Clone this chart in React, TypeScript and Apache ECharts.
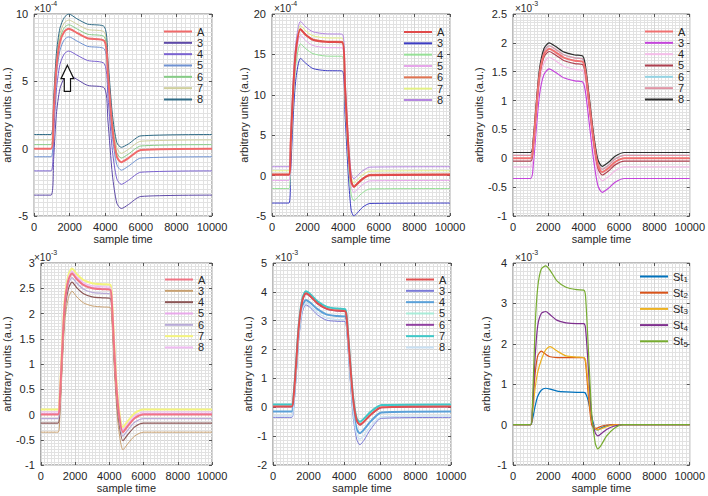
import React, { useEffect, useRef } from 'react';
import * as echarts from 'echarts';

// ---------------- data (values in units of the panel exponent) ----------------
const X_TICKS = [0, 2000, 4000, 6000, 8000, 10000];

// Panel 1 (x1e-4)
const P1_NAMES = ['A', '3', '4', '5', '6', '7', '8'];
const P1_X = [0, 950, 1100, 1250, 1450, 1700, 1950, 2400, 3000, 3950, 4150, 4400, 4650, 4900, 5300, 6000, 10000];
const P1_A = [0, 0, 2.8, 6.0, 7.9, 8.7, 8.9, 8.6, 8.2, 8.0, 5.5, 1.5, -0.6, -1.0, -0.7, -0.1, 0];
const P1_3 = [-3.45, -3.45, -0.65, 2.55, 4.45, 5.25, 5.45, 5.15, 4.7, 4.5, 2.05, -1.95, -4.05, -4.45, -4.15, -3.55, -3.45];
const P1_4 = [-1.65, -1.65, 1.15, 4.35, 6.25, 7.05, 7.25, 6.95, 6.55, 6.3, 3.85, -0.15, -2.25, -2.65, -2.35, -1.75, -1.65];
const P1_5 = [-0.6, -0.6, 2.2, 5.4, 7.3, 8.1, 8.3, 8.0, 7.6, 7.4, 4.9, 0.9, -1.2, -1.6, -1.3, -0.7, -0.6];
const P1_6 = [0.3, 0.3, 3.1, 6.3, 8.2, 9.0, 9.2, 8.9, 8.5, 8.3, 5.8, 1.8, -0.3, -0.7, -0.4, 0.2, 0.3];
const P1_7 = [0.65, 0.65, 3.45, 6.65, 8.55, 9.35, 9.55, 9.25, 8.85, 8.65, 6.15, 2.15, 0.05, -0.35, -0.05, 0.55, 0.65];
const P1_8 = [1.05, 1.05, 3.85, 7.05, 8.95, 9.75, 10.0, 9.65, 9.25, 9.05, 6.55, 2.55, 0.45, 0.1, 0.35, 0.95, 1.05];

// Panel 2 (x1e-4)
const P2_NAMES = ['A', '3', '4', '5', '6', '7', '8'];
const P2_X = [0, 950, 1050, 1200, 1350, 1600, 1900, 2300, 3000, 3950, 4100, 4300, 4450, 4600, 4800, 5100, 5500, 10000];
const P2_A = [0.1, 0.1, 4.1, 11.1, 15.6, 18.1, 17.4, 16.8, 16.55, 16.5, 11.1, 3.1, -0.7, -1.4, -1.0, -0.4, 0.05, 0.1];
const P2_3 = [-3.4, -3.4, 0.6, 7.6, 12.1, 14.5, 13.9, 13.25, 13.0, 12.95, 7.6, -0.4, -4.3, -5.0, -4.6, -3.9, -3.45, -3.4];
const P2_4 = [-1.6, -1.6, 2.4, 9.4, 13.9, 16.3, 15.7, 15.1, 14.8, 14.75, 9.4, 1.4, -2.4, -3.1, -2.7, -2.1, -1.65, -1.6];
const P2_5 = [-0.6, -0.6, 3.4, 10.4, 14.9, 17.4, 16.7, 16.1, 15.85, 15.8, 10.4, 2.4, -1.4, -2.1, -1.7, -1.1, -0.65, -0.6];
const P2_6 = [0.2, 0.2, 4.2, 11.2, 15.7, 18.2, 17.5, 16.9, 16.65, 16.6, 11.2, 3.2, -0.6, -1.3, -0.9, -0.3, 0.15, 0.2];
const P2_7 = [0.6, 0.6, 4.6, 11.6, 16.1, 18.6, 17.9, 17.3, 17.05, 17.0, 11.6, 3.6, -0.2, -0.9, -0.5, 0.1, 0.55, 0.6];
const P2_8 = [1.1, 1.1, 5.1, 12.1, 16.6, 19.1, 18.4, 17.8, 17.55, 17.5, 12.1, 4.1, 0.3, -0.4, 0.0, 0.6, 1.05, 1.1];

// Panel 3 (x1e-3)
const P3_NAMES = ['A', '3', '4', '5', '6', '7', '8'];
const P3_X = [0, 1000, 1150, 1300, 1500, 1750, 2050, 2400, 2900, 3500, 3950, 4100, 4300, 4550, 4800, 5050, 5400, 5800, 6300, 10000];
const P3_A = [0, 0, 0.25, 0.8, 1.45, 1.8, 1.9, 1.84, 1.74, 1.69, 1.67, 1.5, 1.0, 0.35, -0.12, -0.24, -0.17, -0.06, 0, 0];
const P3_3 = [-0.35, -0.35, -0.1, 0.45, 1.1, 1.45, 1.55, 1.49, 1.39, 1.34, 1.32, 1.15, 0.65, 0.0, -0.47, -0.59, -0.52, -0.41, -0.35, -0.35];
const P3_4 = [-0.15, -0.15, 0.1, 0.65, 1.3, 1.65, 1.75, 1.69, 1.59, 1.54, 1.52, 1.35, 0.85, 0.2, -0.27, -0.39, -0.32, -0.21, -0.15, -0.15];
const P3_5 = [-0.05, -0.05, 0.2, 0.75, 1.4, 1.75, 1.85, 1.79, 1.69, 1.64, 1.62, 1.45, 0.95, 0.3, -0.17, -0.29, -0.22, -0.11, -0.05, -0.05];
const P3_6 = [0.05, 0.05, 0.3, 0.85, 1.5, 1.85, 1.95, 1.89, 1.79, 1.74, 1.72, 1.55, 1.05, 0.4, -0.07, -0.19, -0.12, -0.01, 0.05, 0.05];
const P3_7 = [0.05, 0.05, 0.3, 0.85, 1.5, 1.85, 1.95, 1.89, 1.79, 1.74, 1.72, 1.55, 1.05, 0.4, -0.07, -0.19, -0.12, -0.01, 0.05, 0.05];
const P3_8 = [0.1, 0.1, 0.35, 0.9, 1.55, 1.9, 2.0, 1.94, 1.84, 1.79, 1.77, 1.6, 1.1, 0.45, -0.02, -0.14, -0.07, 0.04, 0.1, 0.1];

// Panel 4 (x1e-3)
const P4_NAMES = ['A', '3', '4', '5', '6', '7', '8'];
const P4_X = [0, 1000, 1100, 1250, 1400, 1600, 1820, 2100, 2500, 3000, 3600, 4050, 4150, 4300, 4500, 4800, 5100, 5500, 6000, 10000];
const P4_A = [0, 0, 0.25, 1.3, 2.2, 2.65, 2.79, 2.68, 2.56, 2.5, 2.48, 2.47, 2.2, 1.2, 0.2, -0.35, -0.22, -0.07, 0, 0];
const P4_3 = [-0.35, -0.35, -0.1, 0.95, 1.85, 2.3, 2.44, 2.33, 2.21, 2.15, 2.13, 2.12, 1.85, 0.85, -0.15, -0.7, -0.57, -0.42, -0.35, -0.35];
const P4_4 = [-0.17, -0.17, 0.08, 1.13, 2.03, 2.48, 2.62, 2.51, 2.39, 2.33, 2.31, 2.3, 2.03, 1.03, 0.03, -0.52, -0.39, -0.24, -0.17, -0.17];
const P4_5 = [0.02, 0.02, 0.27, 1.32, 2.22, 2.67, 2.81, 2.7, 2.58, 2.52, 2.5, 2.49, 2.22, 1.22, 0.22, -0.33, -0.2, -0.05, 0.02, 0.02];
const P4_6 = [-0.08, -0.08, 0.17, 1.22, 2.12, 2.57, 2.71, 2.6, 2.48, 2.42, 2.4, 2.39, 2.12, 1.12, 0.12, -0.43, -0.3, -0.15, -0.08, -0.08];
const P4_7 = [0.1, 0.1, 0.35, 1.4, 2.3, 2.75, 2.89, 2.78, 2.66, 2.6, 2.58, 2.57, 2.3, 1.3, 0.3, -0.25, -0.12, 0.03, 0.1, 0.1];
const P4_8 = [0.05, 0.05, 0.3, 1.35, 2.25, 2.7, 2.84, 2.73, 2.61, 2.55, 2.53, 2.52, 2.25, 1.25, 0.25, -0.3, -0.17, -0.02, 0.05, 0.05];

// Panel 5 (x1e-3)
const P5_NAMES = ['A', '3', '4', '5', '6', '7', '8'];
const P5_X = [0, 1050, 1150, 1300, 1450, 1650, 1850, 2100, 2500, 3000, 3600, 4050, 4150, 4300, 4500, 4700, 4880, 5100, 5500, 6100, 10000];
const P5_A = [0.03, 0.03, 0.3, 1.5, 2.8, 3.7, 3.95, 3.85, 3.6, 3.42, 3.35, 3.33, 3.0, 1.8, 0.3, -0.45, -0.6, -0.5, -0.25, 0.0, 0.03];
const P5_3 = [-0.35, -0.35, -0.1, 1.1, 2.38, 3.3, 3.55, 3.45, 3.2, 3.02, 2.98, 2.97, 2.6, 1.3, -0.3, -1.1, -1.3, -1.15, -0.75, -0.38, -0.35];
const P5_4 = [-0.15, -0.15, 0.1, 1.3, 2.6, 3.48, 3.72, 3.62, 3.4, 3.22, 3.16, 3.15, 2.8, 1.55, 0.0, -0.75, -0.9, -0.78, -0.48, -0.18, -0.15];
const P5_5 = [0.08, 0.08, 0.35, 1.55, 2.85, 3.75, 4.0, 3.9, 3.65, 3.47, 3.4, 3.38, 3.05, 1.85, 0.35, -0.4, -0.52, -0.42, -0.17, 0.06, 0.08];
const P5_6 = [0.02, 0.02, 0.29, 1.49, 2.79, 3.69, 3.94, 3.84, 3.59, 3.41, 3.34, 3.32, 2.99, 1.79, 0.29, -0.46, -0.61, -0.51, -0.26, -0.01, 0.02];
const P5_7 = [0.1, 0.1, 0.37, 1.57, 2.87, 3.77, 4.02, 3.92, 3.67, 3.49, 3.42, 3.4, 3.07, 1.87, 0.37, -0.38, -0.5, -0.4, -0.15, 0.08, 0.1];
const P5_8 = [-0.3, -0.3, -0.05, 1.15, 2.45, 3.38, 3.62, 3.52, 3.28, 3.1, 3.04, 3.03, 2.68, 1.4, -0.15, -0.95, -1.1, -0.98, -0.65, -0.33, -0.3];

// Panel 6 (x1e-3)
const P6_NAMES = ['St1', 'St2', 'St3', 'St4', 'St5'];
const P6_X = [0, 1000, 1100, 1250, 1400, 1600, 1850, 2100, 2500, 3000, 3600, 4000, 4100, 4250, 4450, 4650, 4800, 5000, 5300, 5700, 6200, 10000];
const P6_ST1 = [0, 0, 0.12, 0.45, 0.7, 0.85, 0.9, 0.88, 0.83, 0.81, 0.8, 0.8, 0.78, 0.6, 0.2, -0.1, -0.13, -0.08, -0.03, 0, 0, 0];
const P6_ST2 = [0, 0, 0.4, 1.25, 1.7, 1.82, 1.74, 1.68, 1.66, 1.66, 1.66, 1.66, 1.55, 0.8, 0.0, -0.1, -0.08, -0.04, -0.01, 0, 0, 0];
const P6_ST3 = [0, 0, 0.25, 0.9, 1.3, 1.6, 1.85, 1.93, 1.82, 1.7, 1.67, 1.66, 1.6, 1.0, 0.1, -0.1, -0.13, -0.1, -0.05, -0.01, 0, 0];
const P6_ST4 = [0, 0, 0.35, 1.65, 2.45, 2.75, 2.8, 2.72, 2.58, 2.52, 2.5, 2.5, 2.4, 1.5, 0.2, -0.2, -0.28, -0.22, -0.12, -0.04, 0, 0];
const P6_ST5 = [0, 0, 0.5, 2.4, 3.4, 3.85, 3.93, 3.82, 3.55, 3.4, 3.34, 3.33, 3.2, 2.0, 0.3, -0.45, -0.6, -0.5, -0.28, -0.1, 0, 0];

// ---------------- styling / layout ----------------
const FONT = '"Liberation Sans", Arial, Helvetica, sans-serif';
const TXT = '#262626';

type Panel = {
  x: number[]; names: string[]; ys: number[][]; colors: string[]; widths: number[];
  left: number; top: number; width: number; height: number;
  yMin: number; yMax: number; yInt: number; yMinor: number; xMinor: number; yNameGap: number;
  exp: string; legLeft: number; legTop: number; legGap: number; sub?: boolean;
};

const PANELS: Panel[] = [
  {
    x: P1_X, names: P1_NAMES, ys: [P1_A, P1_3, P1_4, P1_5, P1_6, P1_7, P1_8],
    colors: ['#f06a6a', '#5e4aa8', '#7a62d0', '#6f92d2', '#86cc86', '#cfcf9c', '#2f6b86'],
    widths: [2, 1, 1, 1, 1, 1, 1],
    left: 32, top: 14, width: 180, height: 202,
    yMin: -5, yMax: 10, yInt: 5, yMinor: 15, xMinor: 8, yNameGap: 13,
    exp: '-4', legLeft: 163, legTop: 26, legGap: 0.33,
  },
  {
    x: P2_X, names: P2_NAMES, ys: [P2_A, P2_3, P2_4, P2_5, P2_6, P2_7, P2_8],
    colors: ['#e04a4a', '#3d3dc4', '#96e096', '#e6a6ea', '#e07452', '#e2f084', '#b486e0'],
    widths: [2, 1, 1, 1, 1, 1, 1],
    left: 272, top: 14, width: 178, height: 202,
    yMin: -5, yMax: 20, yInt: 5, yMinor: 12, xMinor: 10, yNameGap: 16,
    exp: '-4', legLeft: 403, legTop: 26.5, legGap: 0.33,
  },
  {
    x: P3_X, names: P3_NAMES, ys: [P3_A, P3_3, P3_4, P3_5, P3_6, P3_7, P3_8],
    colors: ['#f07070', '#c444dc', '#f4bce8', '#ae4050', '#94d4e4', '#e094a4', '#2e2e2e'],
    widths: [2, 1.2, 1.2, 1.2, 1.2, 1.2, 1.2],
    left: 513, top: 14, width: 179, height: 202,
    yMin: -1, yMax: 2.5, yInt: 0.5, yMinor: 10, xMinor: 10, yNameGap: 22,
    exp: '-3', legLeft: 644, legTop: 26, legGap: 0.33,
  },
  {
    x: P4_X, names: P4_NAMES, ys: [P4_A, P4_3, P4_4, P4_5, P4_6, P4_7, P4_8],
    colors: ['#f07484', '#c8a070', '#8c5656', '#e8a8ea', '#b8aad8', '#f4f47e', '#f0baf2'],
    widths: [2, 1, 1.2, 1, 1.2, 2, 1.2],
    left: 32, top: 263, width: 180, height: 202,
    yMin: -1, yMax: 3, yInt: 0.5, yMinor: 8, xMinor: 10, yNameGap: 24,
    exp: '-3', legLeft: 164, legTop: 274, legGap: 0.33,
  },
  {
    x: P5_X, names: P5_NAMES, ys: [P5_A, P5_3, P5_4, P5_5, P5_6, P5_7, P5_8],
    colors: ['#e05050', '#7a7ad8', '#5aa0d8', '#a8ecd8', '#9040a0', '#40c8c8', '#c8e0f4'],
    widths: [2, 1, 2, 1, 1.2, 2, 1.2],
    left: 273, top: 263, width: 178, height: 202,
    yMin: -2, yMax: 5, yInt: 1, yMinor: 8, xMinor: 10, yNameGap: 17,
    exp: '-3', legLeft: 405, legTop: 274, legGap: 0.33,
  },
  {
    x: P6_X, names: P6_NAMES, ys: [P6_ST1, P6_ST2, P6_ST3, P6_ST4, P6_ST5],
    colors: ['#0072BD', '#D95319', '#EDB120', '#7E2F8E', '#77AC30'],
    widths: [1.2, 1.2, 1.2, 1.2, 1.2],
    left: 513, top: 263, width: 180, height: 202,
    yMin: -1, yMax: 4, yInt: 1, yMinor: 10, xMinor: 10, yNameGap: 22,
    exp: '-3', legLeft: 639, legTop: 269.5, legGap: 2.2, sub: true,
  },
];

const fmtNum = (v: number) => String(Number(v.toFixed(3)));

function buildOption() {
  const grid: any[] = [];
  const xAxis: any[] = [];
  const yAxis: any[] = [];
  const series: any[] = [];
  const legend: any[] = [];
  const topAxes: any[] = [];
  const rightAxes: any[] = [];

  PANELS.forEach((p, i) => {
    grid.push({
      left: p.left, top: p.top, width: p.width, height: p.height,
      show: true, borderColor: '#7a7a7a', borderWidth: 1, backgroundColor: '#ffffff',
    });
    const tickStyle = { show: true, inside: true, length: 3, lineStyle: { color: '#555', width: 1 } };
    const noLine = { show: false, onZero: false };
    xAxis.push({
      type: 'value', gridIndex: i, min: 0, max: 10000, interval: X_TICKS[1] - X_TICKS[0],
      name: 'sample time', nameLocation: 'middle', nameGap: 17,
      nameTextStyle: { fontSize: 11, color: TXT, fontFamily: FONT },
      axisLine: noLine,
      axisTick: tickStyle,
      axisLabel: { fontSize: 11, color: TXT, fontFamily: FONT, margin: 5, formatter: (v: number) => String(v) },
      splitLine: { show: true, lineStyle: { color: '#d6d6d6', width: 1 } },
      minorTick: { show: false, splitNumber: p.xMinor },
      minorSplitLine: { show: true, lineStyle: { color: '#e2e2e2', width: 1 } },
    });
    yAxis.push({
      type: 'value', gridIndex: i, min: p.yMin, max: p.yMax, interval: p.yInt,
      name: 'arbitrary units (a.u.)', nameLocation: 'middle', nameGap: p.yNameGap,
      nameTextStyle: { fontSize: 11, color: TXT, fontFamily: FONT },
      axisLine: noLine,
      axisTick: tickStyle,
      axisLabel: { fontSize: 11, color: TXT, fontFamily: FONT, margin: 6, formatter: fmtNum },
      splitLine: { show: true, lineStyle: { color: '#d6d6d6', width: 1 } },
      minorTick: { show: false, splitNumber: p.yMinor },
      minorSplitLine: { show: true, lineStyle: { color: '#e2e2e2', width: 1 } },
    });
    topAxes.push({
      type: 'value', gridIndex: i, position: 'top', min: 0, max: 10000, interval: 2000,
      axisLine: noLine, axisTick: tickStyle, axisLabel: { show: false }, splitLine: { show: false },
    });
    rightAxes.push({
      type: 'value', gridIndex: i, position: 'right', min: p.yMin, max: p.yMax, interval: p.yInt,
      axisLine: noLine, axisTick: tickStyle, axisLabel: { show: false }, splitLine: { show: false },
    });

    const prefix = `p${i + 1} `;
    const order = p.names.map((_, j) => j);
    if (!p.sub) { order.push(order.shift() as number); } // draw A on top
    order.forEach((j) => {
      series.push({
        type: 'line', name: prefix + p.names[j], xAxisIndex: i, yAxisIndex: i,
        data: p.x.map((xv, k) => [xv, p.ys[j][k]]),
        symbol: 'none', smooth: 0.25, silent: true,
        lineStyle: { color: p.colors[j], width: p.widths[j] },
        itemStyle: { color: p.colors[j] },
      });
    });

    legend.push({
      orient: 'vertical', left: p.legLeft, top: p.legTop, padding: 0,
      itemWidth: 28, itemHeight: 10, itemGap: p.legGap, selectedMode: false,
      itemStyle: { opacity: 0, borderWidth: 0 },
      data: p.names.map((n) => prefix + n),
      formatter: p.sub
        ? (n: string) => `St{s|${n.slice(prefix.length + 2)}}`
        : (n: string) => n.slice(prefix.length),
      textStyle: {
        fontSize: 11, color: TXT, fontFamily: FONT, lineHeight: p.sub ? 14 : 11,
        rich: p.sub ? { s: { fontSize: 8, color: TXT, fontFamily: FONT, padding: [6, 0, 0, 0] } } : undefined,
      },
    });
  });

  return {
    animation: false,
    backgroundColor: '#ffffff',
    textStyle: { fontFamily: FONT },
    grid,
    xAxis: [...xAxis, ...topAxes],
    yAxis: [...yAxis, ...rightAxes],
    legend,
    series,
  };
}

function buildGraphics(chart: any) {
  const g: any[] = [];
  PANELS.forEach((p) => {
    g.push({
      type: 'text', left: p.left + 2, top: p.top - 11,
      style: { text: '×10', fontSize: 10, fontFamily: FONT, fill: TXT },
    });
    g.push({
      type: 'text', left: p.left + 19, top: p.top - 14,
      style: { text: p.exp, fontSize: 7, fontFamily: FONT, fill: TXT },
    });
  });
  // hollow up-arrow annotation in panel 1 (data coordinates)
  const c = (x: number, y: number) => chart.convertToPixel({ gridIndex: 0 }, [x, y]);
  const tip = c(1870, 6.2);
  const headL = c(1510, 5.2);
  const headR = c(2230, 5.2);
  const shL = c(1695, 5.2);
  const shR = c(2045, 5.2);
  const botL = c(1695, 4.25);
  const botR = c(2045, 4.25);
  g.push({
    type: 'polygon', z: 100,
    shape: { points: [tip, headR, shR, botR, botL, shL, headL] },
    style: { fill: '#ffffff', stroke: '#111111', lineWidth: 1.2 },
  });
  return g;
}

export default function App() {
  const ref = useRef<HTMLDivElement>(null);
  useEffect(() => {
    const chart = echarts.init(ref.current!, null, { renderer: 'svg' });
    chart.setOption(buildOption() as any);
    chart.setOption({ graphic: buildGraphics(chart) } as any);
    return () => chart.dispose();
  }, []);
  return (
    <div
      ref={ref}
      style={{ position: 'fixed', left: 0, top: 0, width: 708, height: 496, background: '#ffffff' }}
    />
  );
}
